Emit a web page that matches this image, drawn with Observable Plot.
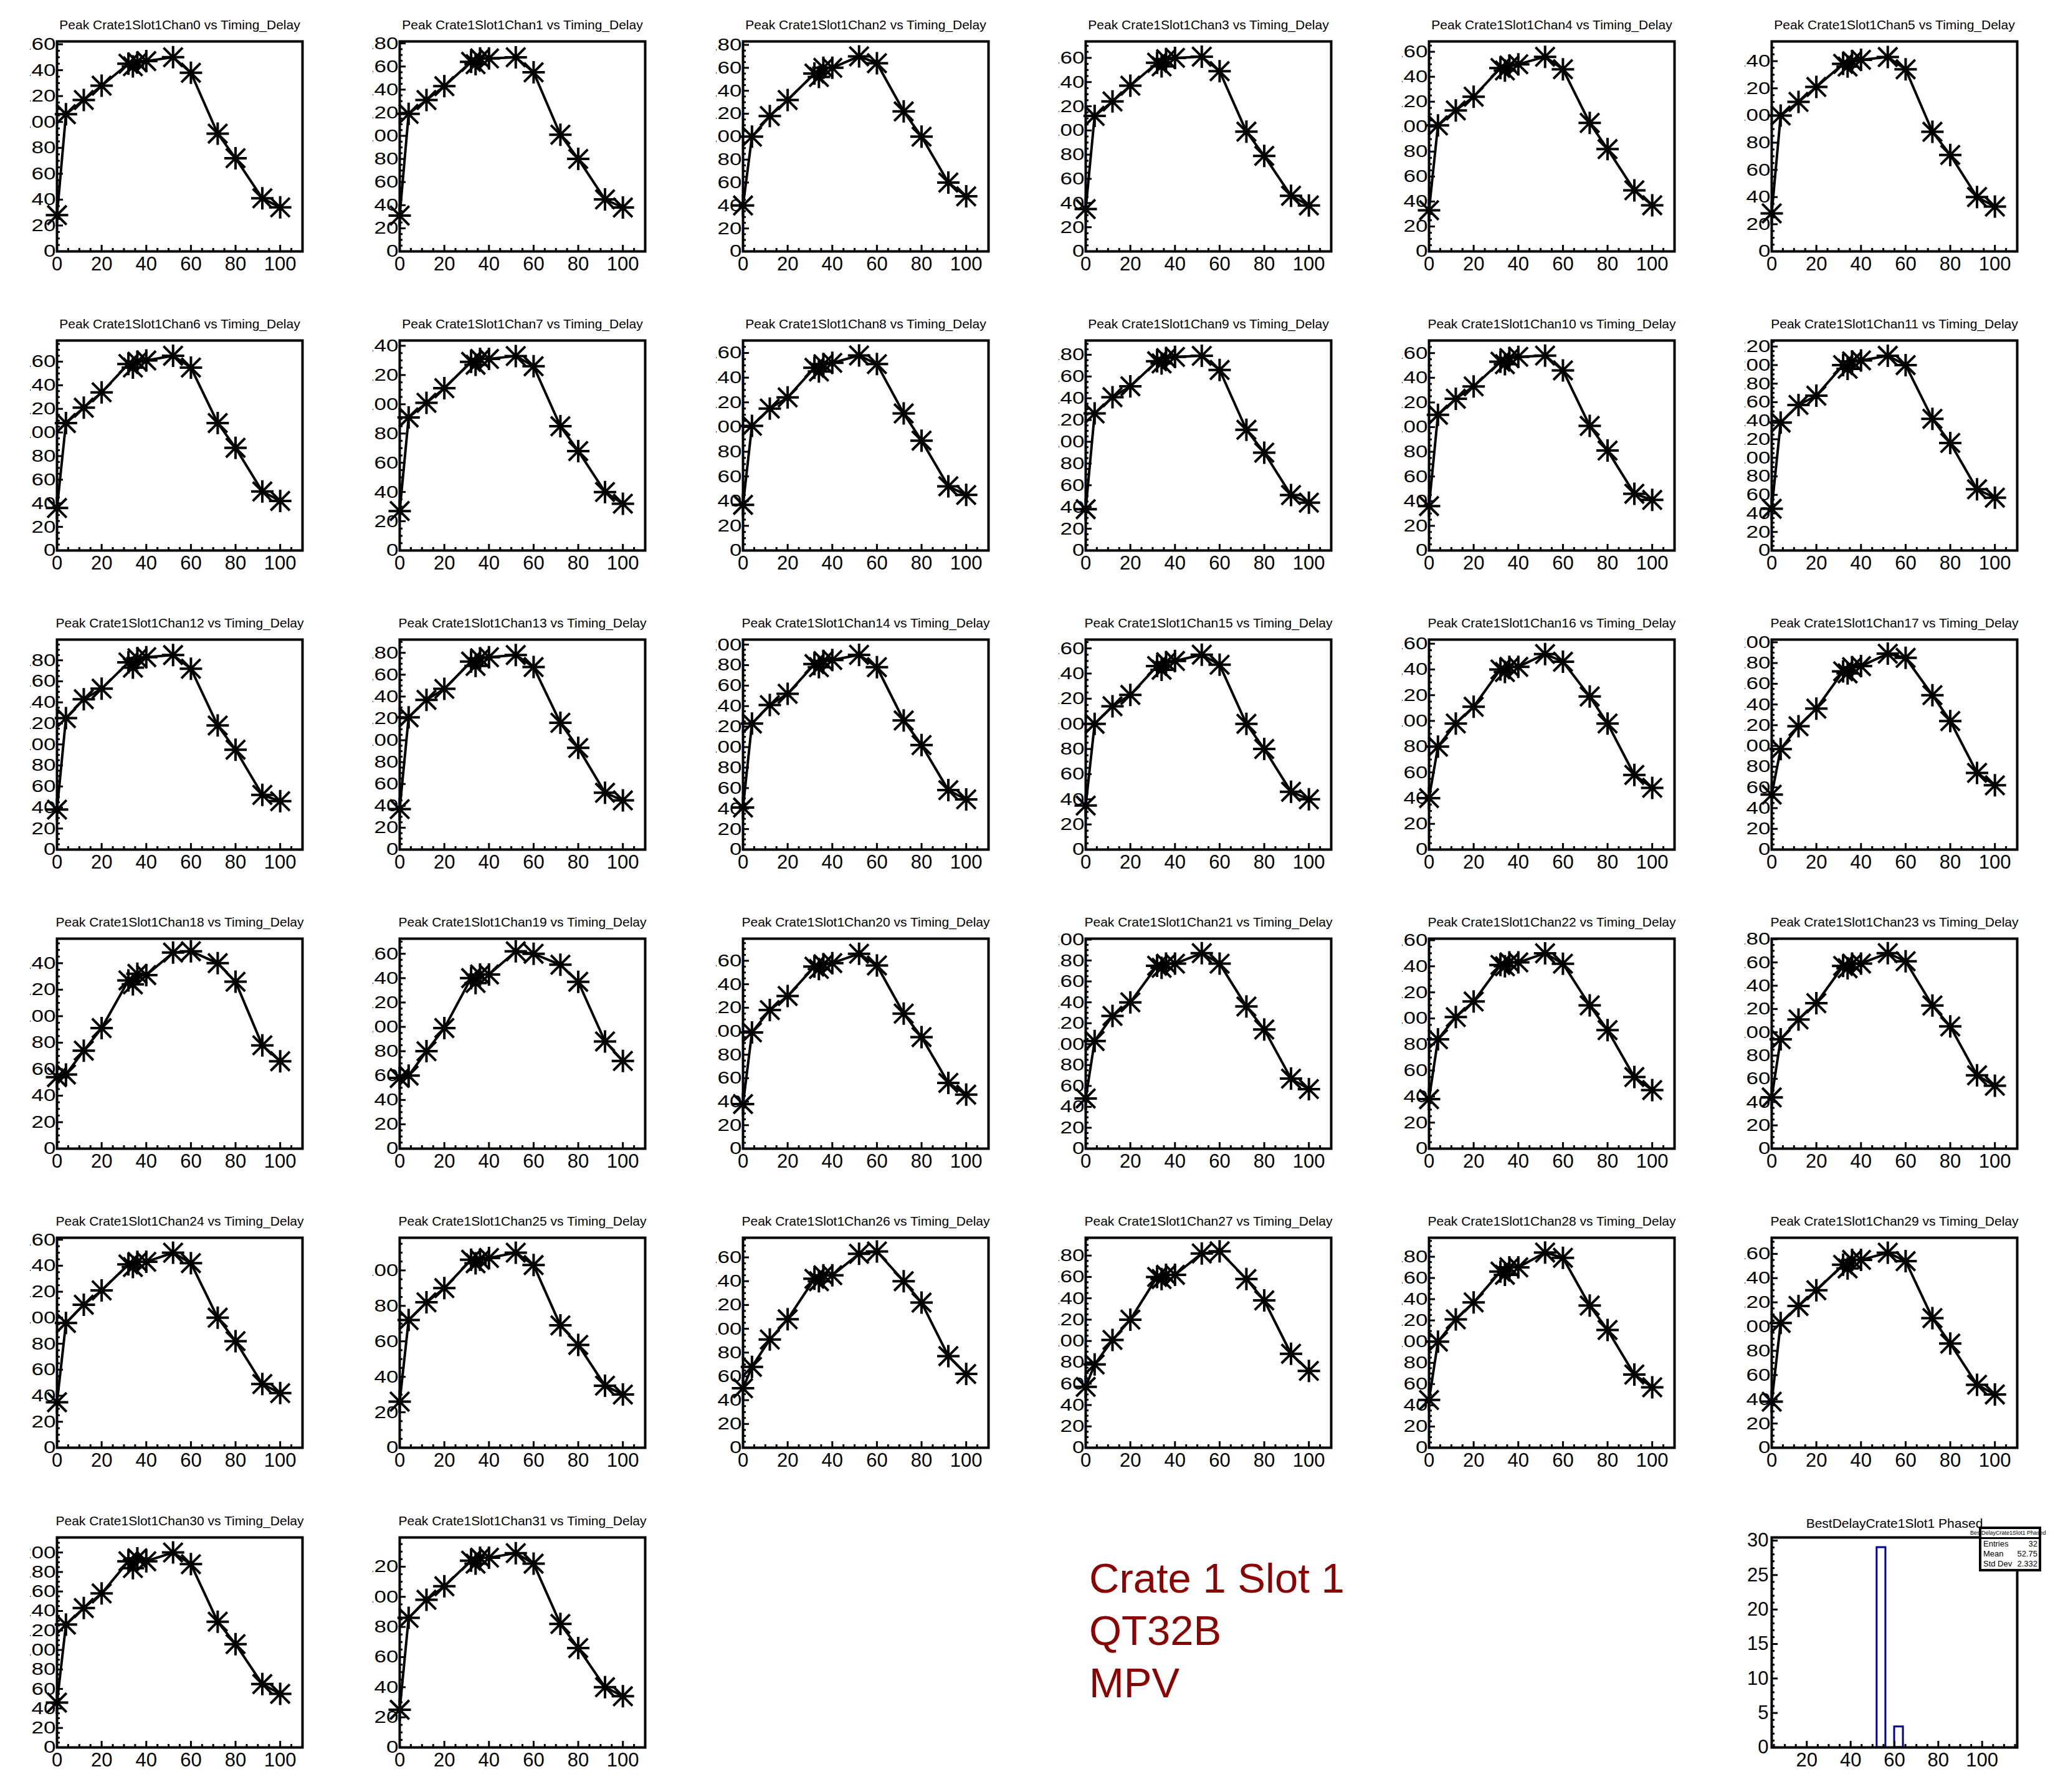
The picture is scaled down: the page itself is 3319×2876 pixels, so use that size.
<!DOCTYPE html>
<html>
<head>
<meta charset="utf-8">
<script src="https://cdn.jsdelivr.net/npm/d3@7"></script>
<script src="https://cdn.jsdelivr.net/npm/@observablehq/plot@0.6"></script>
<style>
html,body{margin:0;padding:0;background:#fff;}
#canvas{position:relative;width:3319px;height:2876px;background:#fff;overflow:hidden;font-family:"Liberation Sans",Arial,Helvetica,sans-serif;}
#canvas svg{position:absolute;overflow:hidden;}
.label{position:absolute;white-space:nowrap;color:#8b0000;font-size:67px;line-height:84px;}
.stats{position:absolute;box-sizing:border-box;border:4px solid #000;background:#fff;}
.stats .hd{position:relative;height:13px;border-bottom:3px solid #000;font-size:9px;line-height:13px;white-space:nowrap;}
.stats .hd span{position:absolute;left:-18px;top:0;}
.stats .row{display:flex;justify-content:space-between;font-size:13px;line-height:16px;padding:0 2px 0 3px;}
</style>
</head>
<body>
<div id="canvas"></div>
<script>
// ---- data ----
const delays = [0, 4, 12, 20, 32, 34, 36, 40, 52, 60, 72, 80, 92, 100];
const chan0  = [28,106,117,128,145,143,146,147,150,138, 91, 72,41,34];
const chan1  = [31,119,131,143,164,162,167,167,168,155,101, 80,45,38];
const chan2  = [40,100,118,132,155,152,160,160,170,164,122,100,60,48];
const chan3  = [35,112,124,137,156,153,159,160,161,149, 99, 79,46,38];
const chan4  = [33,101,113,124,147,145,149,150,156,146,103, 82,49,37];
const chan5  = [28,100,110,121,138,136,140,141,143,134, 88, 71,40,33];
const chan6  = [36,108,121,134,158,155,160,161,165,155,108, 87,50,42];
const chan7  = [27, 91,101,111,129,127,131,131,133,126, 85, 68,40,32];
const chan8  = [37,101,115,124,148,145,151,152,158,151,111, 89,52,45];
const chan9  = [38,126,141,151,174,172,177,178,179,166,111, 90,51,44];
const chan10 = [36,110,123,133,153,151,156,157,158,146,101, 81,46,41];
const chan11 = [45,138,157,167,200,196,204,205,210,200,142,116,66,57];
const chan12 = [38,125,143,153,178,173,182,183,185,172,118, 95,52,46];
const chan13 = [37,121,137,147,172,168,175,176,178,167,116, 93,52,45];
const chan14 = [41,123,141,152,181,178,184,185,190,178,126,102,58,49];
const chan15 = [35,100,114,123,146,143,149,150,155,147,100, 80,46,40];
const chan16 = [40, 80, 98,111,140,138,142,142,152,146,119, 98,58,48];
const chan17 = [53, 97,119,136,172,170,176,177,189,185,149,124,74,62];
const chan18 = [54, 56, 74, 91,127,124,132,131,148,149,140,126,78,66];
const chan19 = [58, 60, 80, 99,140,136,143,143,162,160,151,137,88,72];
const chan20 = [38, 99,118,130,155,153,157,158,166,156,115, 95,56,46];
const chan21 = [48,103,127,140,175,173,177,177,187,177,136,114,67,57];
const chan22 = [38, 84,101,113,141,140,143,143,150,142,110, 91,55,45];
const chan23 = [44, 94,111,125,157,155,159,159,168,161,123,105,63,54];
const chan24 = [35, 96,110,121,141,139,143,143,150,142,100, 82,49,42];
const chan25 = [26, 72, 82, 90,106,104,106,107,110,103, 69, 58,35,30];
const chan26 = [50, 68, 91,108,142,140,145,145,163,165,140,122,77,62];
const chan27 = [57, 78,101,120,160,158,162,162,182,184,158,138,88,72];
const chan28 = [45,100,121,137,166,163,170,170,184,179,134,111,69,57];
const chan29 = [38,103,117,130,151,148,155,155,161,154,107, 86,52,44];
const chan30 = [46,126,143,158,191,184,194,191,200,188,129,106,65,55];
const chan31 = [25, 86, 98,107,124,122,126,126,129,122, 82, 66,40,34];
const channels = [chan0,chan1,chan2,chan3,chan4,chan5,chan6,chan7,chan8,chan9,chan10,chan11,
  chan12,chan13,chan14,chan15,chan16,chan17,chan18,chan19,chan20,chan21,chan22,chan23,
  chan24,chan25,chan26,chan27,chan28,chan29,chan30,chan31];

const xTicks = [0, 20, 40, 60, 80, 100];
const yTicks = [0, 20, 40, 60, 80, 100, 120, 140, 160, 180, 200, 220];

const histBinStart = [52, 60];
const histBinEnd   = [56, 64];
const histCounts   = [29, 3];
const histXTicks = [20, 40, 60, 80, 100];
const histYTicks = [0, 5, 10, 15, 20, 25, 30];
const statsNames  = ["Entries", "Mean", "Std Dev"];
const statsValues = ["32", "52.75", "2.332"];
const histName = "BestDelayCrate1Slot1 Phased";
const noteLines = ["Crate 1 Slot 1", "QT32B", "MPV"];

// ---- layout ----
const FONT = '"Liberation Sans", Arial, Helvetica, sans-serif';
const COL_STEP = 550.4, ROW_STEP = 480.1, FRAME_LEFT0 = 91, FRAME_TOP0 = 66;
const FW = 394, FH = 337;
const ML = 43, MR = 30, MT = 62, MB = 50;
const YLAB_SX = 1.25;

const canvas = document.getElementById("canvas");

const star = {
  draw(ctx, size) {
    const r = Math.sqrt(size / Math.PI);
    const d = r * 0.85;
    ctx.moveTo(-r, 0); ctx.lineTo(r, 0);
    ctx.moveTo(0, -r); ctx.lineTo(0, r);
    ctx.moveTo(-d, -d); ctx.lineTo(d, d);
    ctx.moveTo(-d, d); ctx.lineTo(d, -d);
  }
};

function place(svg, c, r, ml) {
  const fl = FRAME_LEFT0 + c * COL_STEP, ft = FRAME_TOP0 + r * ROW_STEP;
  svg.style.left = (fl - ml) + "px";
  svg.style.top = (ft - MT) + "px";
  canvas.appendChild(svg);
}

function stretchY(svg, sx) {
  svg.querySelectorAll('g[aria-label="y-axis tick label"] text').forEach(t => {
    const tr = t.getAttribute("transform") || "";
    t.setAttribute("transform", tr + ` scale(${sx},1)`);
  });
}

channels.forEach((vals, ch) => {
  const data = delays.map((d, i) => ({x: d, y: vals[i]}));
  const ymin = d3.min(vals), ymax = d3.max(vals);
  const top = ymax + 0.1 * (ymax - ymin);
  const yMaj = yTicks.filter(v => v <= top);
  const yMin = d3.range(5, top, 5).filter(v => v % 20 !== 0);
  const xMin = d3.range(5, 110, 5).filter(v => v % 20 !== 0);
  const svg = Plot.plot({
    width: ML + FW + MR, height: MT + FH + MB,
    marginLeft: ML, marginRight: MR, marginTop: MT, marginBottom: MB,
    style: {fontFamily: FONT, color: "black", background: "transparent", overflow: "hidden"},
    x: {domain: [0, 110]},
    y: {domain: [0, top]},
    marks: [
      Plot.axisX(xTicks, {label: null, tickSize: -10, tickPadding: 18, fontSize: 31, strokeWidth: 3, tickFormat: d => String(d)}),
      Plot.axisX(xMin, {label: null, tickSize: -5, text: null, strokeWidth: 3}),
      Plot.axisY(yMaj, {label: null, tickSize: -10, tickPadding: 12, fontSize: 28, strokeWidth: 3, tickFormat: d => String(d)}),
      Plot.axisY(yMin, {label: null, tickSize: -5, text: null, strokeWidth: 3}),
      Plot.line(data, {x: "x", y: "y", stroke: "black", strokeWidth: 4}),
      Plot.dot(data, {x: "x", y: "y", symbol: star, r: 18, stroke: "black", strokeWidth: 4, fill: "none", strokeLinecap: "butt"}),
      Plot.frame({stroke: "black", strokeWidth: 4}),
      Plot.text([`Peak Crate1Slot1Chan${ch} vs Timing_Delay`], {text: d => d, frameAnchor: "top", dy: -34, fontSize: 21, fill: "black"})
    ]
  });
  stretchY(svg, YLAB_SX);
  place(svg, ch % 6, Math.floor(ch / 6), ML);
});

// ---- histogram (pad 36) ----
{
  const HML = 60;
  const bins = histCounts.map((n, i) => ({x1: histBinStart[i], x2: histBinEnd[i], n}));
  const top = d3.max(histCounts) * 1.05;
  const svg = Plot.plot({
    width: HML + FW + MR, height: MT + FH + MB,
    marginLeft: HML, marginRight: MR, marginTop: MT, marginBottom: MB,
    style: {fontFamily: FONT, color: "black", background: "transparent", overflow: "hidden"},
    x: {domain: [4, 116]},
    y: {domain: [0, top]},
    marks: [
      Plot.rectY(bins, {x1: "x1", x2: "x2", y: "n", fill: "none", stroke: "#000099", strokeWidth: 3}),
      Plot.axisX(histXTicks, {label: null, tickSize: -10, tickPadding: 18, fontSize: 31, strokeWidth: 3, tickFormat: d => String(d)}),
      Plot.axisX(d3.range(5, 116, 5).filter(v => v % 20 !== 0), {label: null, tickSize: -5, text: null, strokeWidth: 3}),
      Plot.axisY(histYTicks, {label: null, tickSize: -10, tickPadding: 15, fontSize: 31, strokeWidth: 3, tickFormat: d => String(d)}),
      Plot.axisY(d3.range(1, top, 1).filter(v => v % 5 !== 0), {label: null, tickSize: -5, text: null, strokeWidth: 3}),
      Plot.frame({stroke: "black", strokeWidth: 4}),
      Plot.text([histName], {text: d => d, frameAnchor: "top", dy: -30, fontSize: 21, fill: "black"})
    ]
  });
  place(svg, 5, 5, HML);

  const box = document.createElement("div");
  box.className = "stats";
  Object.assign(box.style, {left: "3176px", top: "2450px", width: "100px", height: "72px", fontFamily: FONT});
  const hd = document.createElement("div");
  hd.className = "hd";
  const sp = document.createElement("span");
  sp.textContent = histName;
  hd.appendChild(sp);
  box.appendChild(hd);
  statsNames.forEach((nm, i) => {
    const row = document.createElement("div");
    row.className = "row";
    const a = document.createElement("span"); a.textContent = nm;
    const b = document.createElement("span"); b.textContent = statsValues[i];
    row.appendChild(a); row.appendChild(b);
    box.appendChild(row);
  });
  canvas.appendChild(box);
}

// ---- text pad ----
{
  const div = document.createElement("div");
  div.className = "label";
  Object.assign(div.style, {left: "1748px", top: "2491px", fontFamily: FONT});
  div.innerHTML = noteLines.map(s => `<div>${s}</div>`).join("");
  canvas.appendChild(div);
}
</script>
</body>
</html>
